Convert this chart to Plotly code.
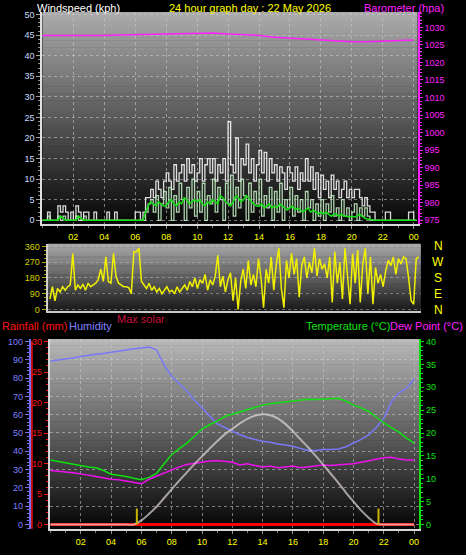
import plotly.graph_objects as go

W, H = 466, 555
FONT = "Liberation Sans"

# ---------------- data ----------------
tick_hours = [2, 4, 6, 8, 10, 12, 14, 16, 18, 20, 22, 24]
tick_text = ["02", "04", "06", "08", "10", "12", "14", "16", "18", "20", "22", "00"]

# 10-minute wind data (kph), 00:00 .. 24:10
wind_gust = [
    0, 0, 2, 0, 0, 0,  3.5, 2, 3.5, 2, 0, 2,  0, 3.5, 2, 0, 2, 2,  0, 0, 2, 0, 0, 0,
    0, 2, 0, 0, 2, 0,  0, 0, 0, 0, 0, 0,  2, 2, 0, 2, 5.5, 5.5,  7.5, 5.5, 9.5, 7.5, 5.5, 9.5,
    11.5, 9.5, 7.5, 13.5, 9.5, 11.5,  13.5, 9.5, 15, 11.5, 13.5, 9.5,  11.5, 15, 9.5, 13.5, 15, 11.5,
    15, 9.5, 13.5, 11.5, 15, 9.5,  24, 13.5, 11.5, 20, 9.5, 15,  13.5, 18.5, 11.5, 15, 9.5, 13.5,
    17, 11.5, 16.5, 9.5, 15, 11.5,  13.5, 9.5, 13, 11.5, 7.5, 13,  11.5, 9.5, 13, 7.5, 11.5, 9.5,
    15, 9.5, 13, 7.5, 11.5, 5.5,  11, 7.5, 9.5, 5.5, 11, 7.5,  9.5, 5.5, 7.5, 9.5, 5.5, 7.5,
    5.5, 7.5, 7.5, 5.5, 3.5, 5.5,  3.5, 2, 2, 0, 0, 0,  0, 2, 2, 0, 0, 0,  0, 0, 0, 0, 2, 2,
    0, 0]
wind_speed = [
    0, 0, 1, 0, 0, 0,  1, 0, 1, 0, 0, 0,  0, 1, 0, 0, 1, 0,  0, 0, 0, 0, 0, 0,
    0, 0, 0, 0, 0, 0,  0, 0, 0, 0, 0, 0,  0, 0, 0, 0, 2, 4,  5, 2, 6, 0, 4, 7,
    3, 8, 0, 6, 2, 9,  5, 0, 8, 3, 10, 1,  7, 2, 9, 0, 6, 4,
    10, 2, 8, 5, 0, 9,  4, 11, 1, 8, 3, 10,  6, 0, 9, 2, 7, 4,
    10, 1, 6, 3, 8, 0,  7, 2, 9, 0, 5, 3,  8, 1, 6, 2, 5, 0,
    7, 3, 5, 0, 4, 1,  5, 0, 4, 2, 6, 1,  3, 0, 5, 1, 3, 0,
    2, 4, 0, 3, 1, 3,  1, 0, 0, 0, 0, 0,  0, 0, 0, 0, 0, 0,  0, 0, 0, 0, 0, 0,
    0, 0]
wind_avg = [
    0, 0, 0, 0, 0, 0,  0, 1, 0.5, 0, 0, 0,  0, 0, 1, 0.5, 0, 0,  0, 0, 0, 0, 0, 0,
    0, 0, 0, 0, 0, 0,  0, 0, 0, 0, 0, 0,  0, 0, 0, 0, 2, 3.5,  4.5, 4, 3.5, 4.5, 4, 3.5,
    3.5, 4.5, 5, 4, 3.5, 4.5,  4, 5.5, 5, 4, 4.5, 5,  4.5, 5, 4, 3.5, 4.5, 4,
    5, 4.5, 4, 6, 5.5, 4.5,  4, 3.5, 4.5, 6, 5.5, 4.5,  5, 6, 5.5, 4.5, 4, 3.5,
    3.5, 4, 3, 3.5, 4, 3,  3.5, 3, 4, 3.5, 3, 2.5,  3, 3.5, 2.5, 3, 2.5, 2,
    2.5, 3, 2, 2.5, 2, 1.5,  2, 1.5, 2, 1.5, 1, 1.5,  1.5, 1, 1.5, 1, 1, 0.8,
    1, 0.8, 1, 1.5, 1, 0.5,  0.3, 0.2, 0, 0, 0, 0,  0, 0, 0, 0, 0, 0,  0, 0, 0, 0, 0, 0,
    0, 0]
wind_dir = [
    60, 130, 50, 120, 100, 130,  110, 130, 140, 320, 110, 140,  120, 145, 110, 150, 130, 140,
    150, 170, 230, 160, 300, 160,  150, 320, 190, 150, 140, 130,  130, 125, 90, 330, 330, 350,
    160, 140, 120, 150, 110, 130,  100, 120, 90, 110, 130, 100,  110, 90, 130, 100, 120, 140,
    110, 160, 130, 180, 120, 170,  150, 200, 110, 170, 140, 190,  310, 130, 190, 100, 170, 210,
    50, 180, 0, 160, 230, 120,  280, 140, 200, 130, 290, 180,  10, 230, 150, 300, 110, 260,
    350, 120, 10, 280, 180, 320,  200, 290, 70, 250, 300, 180,  270, 210, 350, 190, 290, 230,
    260, 180, 300, 40, 330, 150,  270, 60, 350, 200, 30, 320,  150, 340, 40, 260, 350, 90,
    300, 30, 240, 150, 200, 130,  220, 280, 250, 300, 200, 290,  260, 300, 290, 180, 50, 30,
    290, 300]
t10 = [i / 6 for i in range(len(wind_gust))]

# hourly barometer (hPa)
baro = [1027.7, 1027.7, 1027.6, 1027.5, 1027.7, 1027.8, 1027.9, 1028.0, 1028.2, 1028.4,
        1028.5, 1028.4, 1028.1, 1028.0, 1027.7, 1027.2, 1026.9, 1026.6, 1026.3, 1026.1,
        1025.9, 1025.9, 1026.1, 1026.3, 1026.4]
t60 = list(range(len(baro)))

# half-hourly temperature panel data
humidity = [89.3, 89.8, 90.5, 91.0, 91.8, 92.2, 93.0, 93.5, 94.2, 94.8, 95.5, 96.0, 96.5, 97.0,
            95.5, 87.0, 81.0, 77.0, 73.0, 68.0, 63.5, 59.0, 55.0, 53.0, 51.0, 49.0, 47.5, 46.5,
            45.5, 45.0, 44.0, 43.5, 42.8, 41.5, 40.5, 40.5, 41.0, 41.0, 41.3, 42.5, 44.5, 46.5,
            49.0, 53.0, 58.0, 67.0, 72.0, 74.5, 79.5]
temperature = [14.1, 13.8, 13.4, 13.1, 12.8, 12.6, 12.4, 11.8, 11.0, 10.8, 10.5, 10.1, 9.8, 10.3,
               11.2, 13.3, 15.3, 16.6, 17.8, 19.3, 20.9, 21.8, 22.6, 23.6, 24.1, 24.6, 25.0, 25.6,
               26.1, 26.4, 26.6, 26.8, 26.9, 27.2, 27.4, 27.3, 27.4, 27.5, 27.6, 27.0, 26.1, 25.5,
               24.7, 23.5, 22.2, 21.2, 20.2, 18.9, 17.8]
dew_point = [11.8, 11.7, 11.5, 11.3, 11.1, 10.8, 10.5, 10.2, 9.9, 9.8, 9.5, 9.1, 8.9, 9.9,
             10.6, 11.3, 12.0, 12.6, 13.1, 13.4, 13.6, 13.9, 14.0, 13.8, 13.6, 13.0, 13.3, 12.9,
             12.6, 12.8, 12.4, 12.6, 12.8, 12.4, 12.6, 12.8, 13.0, 12.9, 13.1, 13.2, 13.3, 13.6,
             13.9, 14.3, 14.6, 14.7, 14.3, 14.1, 14.1]
max_solar = [0, 0, 0, 0, 0, 0, 0, 0, 0, 0, 0, 0, 0.9, 2.3,
             3.9, 5.8, 7.7, 9.6, 11.4, 13.2, 14.9, 16.6, 18.2, 19.7, 20.9, 22.1, 23.1, 23.8,
             24.1, 23.9, 23.2, 22.0, 20.4, 18.6, 16.9, 15.0, 13.1, 11.1, 9.1, 7.0, 5.0, 3.1,
             1.5, 0.2, 0, 0, 0, 0, 0]
rainfall = [0] * 49
t30 = [i / 2 for i in range(len(humidity))]
sun_events = [5.7, 21.65]
sun_marker_height = 3.5

compass_vals = [360, 270, 180, 90, 0]
compass_text = ["N", "W", "S", "E", "N"]

# ---------------- helpers ----------------
def px_x(p):
    return p / W

def px_y(p):
    return 1 - p / H

shapes = []

def gradient(x0, x1, y0, y1, ctop, cbot, n=60):
    for k in range(n):
        t = (k + 0.5) / n
        c = int(round(ctop + (cbot - ctop) * t))
        ya = y0 + (y1 - y0) * k / n
        yb = y0 + (y1 - y0) * (k + 1) / n + 0.6
        shapes.append(dict(type="rect", xref="paper", yref="paper",
                           x0=px_x(x0), x1=px_x(x1), y0=px_y(min(yb, y1)), y1=px_y(ya),
                           fillcolor=f"rgb({c},{c},{c})", line=dict(width=0), layer="below"))

# panel geometry (px)
P1 = dict(l=42.5, r=418.5, t=10, b=224)
P2 = dict(l=47.7, r=421.7, t=244, b=312)
P3 = dict(l=50, r=420, t=340, b=531.5)

gradient(P1["l"], P1["r"], P1["t"], P1["b"], 172, 6)
gradient(P2["l"], P2["r"], P2["t"], P2["b"], 168, 24)
gradient(P3["l"], P3["r"], P3["t"], P3["b"], 185, 4)

# red rain axis line
shapes.append(dict(type="line", xref="paper", yref="paper", x0=px_x(32), x1=px_x(32),
                   y0=px_y(P3["b"]), y1=px_y(P3["t"] + 2), line=dict(color="#ff1010", width=1.5)))

fig = go.Figure()

# panel 1 traces
fig.add_trace(go.Scatter(x=t10, y=wind_gust, mode="lines", line=dict(color="rgba(255,255,255,0.85)", width=1.3, shape="hv"),
                         xaxis="x", yaxis="y"))
fig.add_trace(go.Scatter(x=t10, y=wind_speed, mode="lines", line=dict(color="rgba(200,245,200,0.85)", width=1.3, shape="hv"),
                         xaxis="x", yaxis="y"))
fig.add_trace(go.Scatter(x=t10, y=wind_avg, mode="lines", line=dict(color="#10e010", width=1.5),
                         xaxis="x", yaxis="y"))
fig.add_trace(go.Scatter(x=t60, y=baro, mode="lines", line=dict(color="#ff20ff", width=1.5),
                         xaxis="x", yaxis="y2"))

# panel 2
fig.add_trace(go.Scatter(x=t10, y=wind_dir, mode="lines", line=dict(color="#f0f000", width=1.5),
                         xaxis="x2", yaxis="y3"))

# panel 3
fig.add_trace(go.Scatter(x=t30, y=humidity, mode="lines", line=dict(color="#7878f8", width=1.5),
                         xaxis="x3", yaxis="y4"))
fig.add_trace(go.Scatter(x=t30, y=rainfall, mode="lines", line=dict(color="#ff0000", width=3),
                         xaxis="x3", yaxis="y5"))
fig.add_trace(go.Scatter(x=t30, y=temperature, mode="lines", line=dict(color="#10e010", width=1.5),
                         xaxis="x3", yaxis="y6"))
fig.add_trace(go.Scatter(x=t30, y=dew_point, mode="lines", line=dict(color="#f010f0", width=1.5),
                         xaxis="x3", yaxis="y6"))
fig.add_trace(go.Scatter(x=t30, y=max_solar, mode="lines", line=dict(color="rgba(225,215,215,0.7)", width=2, shape="spline"),
                         xaxis="x3", yaxis="y6"))
sx, sy = [], []
for s in sun_events:
    sx += [s, s, None]
    sy += [0, sun_marker_height, None]
fig.add_trace(go.Scatter(x=sx, y=sy, mode="lines", line=dict(color="#c8b400", width=2),
                         xaxis="x3", yaxis="y6"))

tickfont = dict(family=FONT, size=9)
grid = dict(showgrid=True, gridcolor="rgba(205,205,205,0.55)", griddash="dot", gridwidth=1)

def xaxis_common(dom, rng, anchor, labels=True):
    d = dict(domain=[px_x(dom[0]), px_x(dom[1])], range=rng, anchor=anchor,
             tickvals=tick_hours, ticktext=tick_text, showticklabels=labels,
             tickfont=dict(tickfont, color="#ffff00"), ticks="outside", ticklen=3, tickcolor="#909090",
             showline=True, linecolor="#d8d8d8", linewidth=2, zeroline=False,
             minor=dict(dtick=1, ticks="outside", ticklen=2, tickcolor="#808080"))
    return d

fig.update_layout(
    width=W, height=H, autosize=False,
    margin=dict(l=0, r=0, t=0, b=0),
    paper_bgcolor="black", plot_bgcolor="rgba(0,0,0,0)",
    showlegend=False,
    shapes=shapes,
    xaxis=dict(xaxis_common((P1["l"], P1["r"]), [0, 24.25], "y"), **grid),
    yaxis=dict(domain=[px_y(P1["b"]), px_y(P1["t"])], range=[-0.9, 50.65], anchor="x",
               tickvals=list(range(0, 51, 5)), tickfont=dict(tickfont, color="#c8dcff"),
               ticks="outside", ticklen=4, tickcolor="#a0a0a0",
               minor=dict(dtick=1, ticks="outside", ticklen=2, tickcolor="#909090"),
               showline=True, linecolor="#e0e0e0", linewidth=2, zeroline=False, **grid),
    yaxis2=dict(overlaying="y", side="right", anchor="x", range=[973.95, 1034.4],
                tickvals=list(range(975, 1031, 5)), tickfont=dict(tickfont, color="#ff20ff"),
                ticks="outside", ticklen=3, tickcolor="#ff20ff",
                minor=dict(dtick=1, ticks="outside", ticklen=2, tickcolor="#ff20ff"),
                showline=True, linecolor="#ff20ff", linewidth=2, showgrid=False, zeroline=False),
    xaxis2=dict(domain=[px_x(P2["l"]), px_x(P2["r"])], range=[-0.15, 24.3], anchor="y3",
                showticklabels=False, ticks="", showgrid=False, showline=True,
                linecolor="#c8c8c8", linewidth=2, zeroline=False),
    yaxis3=dict(domain=[px_y(P2["b"]), px_y(P2["t"])], range=[-9.6, 375], anchor="x2",
                tickvals=[0, 90, 180, 270, 360], tickfont=dict(tickfont, color="#d0d000"),
                ticks="outside", ticklen=4, tickcolor="#a8a800",
                minor=dict(dtick=22.5, ticks="outside", ticklen=2, tickcolor="#a8a800"),
                showline=True, linecolor="#d0d0d0", linewidth=2, zeroline=False,
                showgrid=True, gridcolor="rgba(205,205,205,0.45)", griddash="dot"),
    xaxis3=dict(xaxis_common((P3["l"], P3["r"]), [-0.04, 24.33], "y4"), **grid),
    yaxis4=dict(domain=[px_y(P3["b"]), px_y(P3["t"])], range=[-2.3, 101.4], anchor="free",
                position=px_x(30), side="left",
                tickvals=list(range(0, 101, 10)), tickfont=dict(tickfont, color="#8080ff"),
                ticks="outside", ticklen=4, tickcolor="#7070f0",
                minor=dict(dtick=2, ticks="outside", ticklen=2, tickcolor="#7070f0"),
                showline=True, linecolor="#7070f0", linewidth=2, zeroline=False, **grid),
    yaxis5=dict(overlaying="y4", side="left", anchor="x3", range=[-0.68, 30.42],
                tickvals=list(range(0, 31, 5)), tickfont=dict(tickfont, color="#ff1010"),
                ticks="outside", ticklen=4, tickcolor="#ff1010",
                minor=dict(dtick=1, ticks="outside", ticklen=2, tickcolor="#ff1010"),
                showline=True, linecolor="#d8d8d8", linewidth=2, showgrid=False, zeroline=False),
    yaxis6=dict(overlaying="y4", side="right", anchor="x3", range=[-0.91, 40.56],
                tickvals=list(range(0, 41, 5)), tickfont=dict(tickfont, color="#10e010"),
                ticks="outside", ticklen=3, tickcolor="#10e010",
                minor=dict(dtick=1, ticks="outside", ticklen=2, tickcolor="#10e010"),
                showline=True, linecolor="#10e010", linewidth=2, showgrid=False, zeroline=False),
)

ann = []
def label(text, xc, yc, color, size=11, anchor="center"):
    ann.append(dict(text=text, x=px_x(xc), y=px_y(yc), xref="paper", yref="paper",
                    xanchor=anchor, yanchor="middle", showarrow=False,
                    font=dict(family=FONT, size=size, color=color)))

label("Windspeed (kph)", 35, 6, "#ffffff", anchor="left")
label("24 hour graph day : 22 May 2026", 251, 6, "#ffff00")
label("Barometer (hpa)", 447, 6, "#ff20ff", anchor="right")
label("Max solar", 141.5, 320, "#c8103c")
label("Rainfall (mm)", 0, 327, "#ff1010", anchor="left")
label("Humidity", 67, 327, "#8080ff", anchor="left")
label("Temperature (°C)", 393, 327, "#10e010", anchor="right")
label("Dew Point (°C)", 466, 327, "#ff20ff", anchor="right")
for v, t in zip(compass_vals, compass_text):
    ann.append(dict(text=t, x=px_x(439), y=v, xref="paper", yref="y3",
                    xanchor="center", yanchor="middle", showarrow=False,
                    font=dict(family=FONT, size=12, color="#ffff00")))
fig.update_layout(annotations=ann)

fig.write_html("out.html", config={"displayModeBar": False},
               post_script="document.body.style.margin='0';")
